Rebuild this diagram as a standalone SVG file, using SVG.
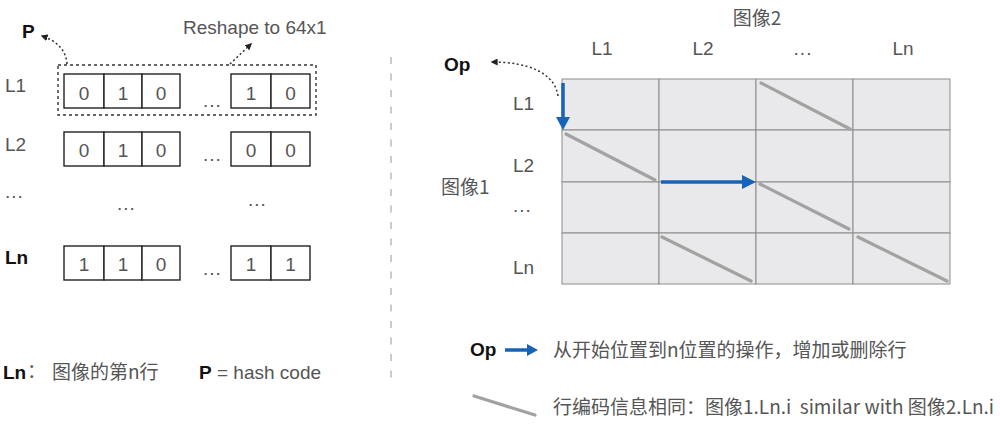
<svg xmlns="http://www.w3.org/2000/svg" width="1000" height="427" viewBox="0 0 1000 427">
<style>
.t{font-family:"Liberation Sans","Noto Sans CJK SC",sans-serif;font-size:19px;fill:#555}
.c{font-family:"Noto Sans CJK SC","Liberation Sans",sans-serif;font-size:19px;fill:#555}
.b{font-family:"Liberation Sans",sans-serif;font-size:19px;font-weight:bold;fill:#111}
.m{text-anchor:middle}
.box{fill:#fff;stroke:#222;stroke-width:1.4}
.cell{fill:#e9e9eb;stroke:#8c8c8c;stroke-width:1}
.diag{stroke:#a2a2a2;stroke-width:3.2;stroke-linecap:round}
.blue{stroke:#1763b8;stroke-width:3.5;fill:none}
.dot{fill:none;stroke:#333;stroke-width:1.5;stroke-dasharray:2,2.5}
</style>
<defs>
<marker id="ah" viewBox="0 0 10 10" refX="8" refY="5" markerWidth="7" markerHeight="7" orient="auto" markerUnits="userSpaceOnUse">
<path d="M0,0 L10,5 L0,10 z" fill="#222"/>
</marker>
</defs>

<!-- divider -->
<line x1="391" y1="57" x2="391" y2="380" stroke="#bbb" stroke-width="1.5" stroke-dasharray="7,9.5"/>

<!-- left panel -->
<g id="row-L1">
<text class="t" x="5" y="92">L1</text>
<rect x="58" y="65" width="258" height="50" fill="none" stroke="#333" stroke-width="1.4" stroke-dasharray="3,3"/>
<rect class="box" x="64" y="74" width="40" height="34"/>
<rect class="box" x="104" y="74" width="38" height="34"/>
<rect class="box" x="142" y="74" width="38" height="34"/>
<rect class="box" x="231" y="74" width="40" height="34"/>
<rect class="box" x="271" y="74" width="39" height="34"/>
<text class="t m" x="84" y="100">0</text>
<text class="t m" x="123" y="100">1</text>
<text class="t m" x="161" y="100">0</text>
<text class="t m" x="251" y="100">1</text>
<text class="t m" x="290.5" y="100">0</text>
<text class="t" x="203" y="107" letter-spacing="1">...</text>
</g>
<g id="row-L2">
<text class="t" x="5" y="151">L2</text>
<rect class="box" x="64" y="132" width="40" height="34"/>
<rect class="box" x="104" y="132" width="38" height="34"/>
<rect class="box" x="142" y="132" width="38" height="34"/>
<rect class="box" x="231" y="132" width="40" height="34"/>
<rect class="box" x="271" y="132" width="39" height="34"/>
<text class="t m" x="84" y="157">0</text>
<text class="t m" x="123" y="157">1</text>
<text class="t m" x="161" y="157">0</text>
<text class="t m" x="251" y="157">0</text>
<text class="t m" x="290.5" y="157">0</text>
<text class="t" x="203" y="161" letter-spacing="1">...</text>
</g>
<g id="row-dots">
<text class="t" x="5" y="198" letter-spacing="1">...</text>
<text class="t" x="117" y="210" letter-spacing="1">...</text>
<text class="t" x="248" y="206" letter-spacing="1">...</text>
</g>
<g id="row-Ln">
<text class="b" x="5" y="264">Ln</text>
<rect class="box" x="64" y="246" width="40" height="34"/>
<rect class="box" x="104" y="246" width="38" height="34"/>
<rect class="box" x="142" y="246" width="38" height="34"/>
<rect class="box" x="231" y="246" width="40" height="34"/>
<rect class="box" x="271" y="246" width="39" height="34"/>
<text class="t m" x="84" y="271">1</text>
<text class="t m" x="123" y="271">1</text>
<text class="t m" x="161" y="271">0</text>
<text class="t m" x="251" y="271">1</text>
<text class="t m" x="290.5" y="271">1</text>
<text class="t" x="203" y="275" letter-spacing="1">...</text>
</g>
<g id="label-P"><text class="b" x="22" y="38">P</text></g>
<g id="label-reshape"><text class="t" x="183" y="34">Reshape to 64x1</text></g>
<g id="legend-left">
<text class="b" x="3" y="379">Ln</text>
<text class="c" x="27" y="378">：</text>
<text class="c" x="52" y="379">图像的第n行</text>
<text class="b" x="199" y="379">P</text>
<text class="t" x="217" y="379">= hash code</text>
</g>

<!-- right panel -->
<g id="grid">
<rect class="cell" x="562" y="79" width="97" height="51"/>
<rect class="cell" x="659" y="79" width="97" height="51"/>
<rect class="cell" x="756" y="79" width="97" height="51"/>
<rect class="cell" x="853" y="79" width="97" height="51"/>
<rect class="cell" x="562" y="130" width="97" height="52"/>
<rect class="cell" x="659" y="130" width="97" height="52"/>
<rect class="cell" x="756" y="130" width="97" height="52"/>
<rect class="cell" x="853" y="130" width="97" height="52"/>
<rect class="cell" x="562" y="182" width="97" height="51"/>
<rect class="cell" x="659" y="182" width="97" height="51"/>
<rect class="cell" x="756" y="182" width="97" height="51"/>
<rect class="cell" x="853" y="182" width="97" height="51"/>
<rect class="cell" x="562" y="233" width="97" height="51"/>
<rect class="cell" x="659" y="233" width="97" height="51"/>
<rect class="cell" x="756" y="233" width="97" height="51"/>
<rect class="cell" x="853" y="233" width="97" height="51"/>
</g>
<g id="headers">
<text class="c m" x="757" y="25">图像2</text>
<text class="t m" x="602" y="55">L1</text>
<text class="t m" x="703" y="55">L2</text>
<text class="t m" x="803" y="55" letter-spacing="1">...</text>
<text class="t m" x="903" y="55">Ln</text>
<text class="t" x="513" y="110">L1</text>
<text class="t" x="513" y="172">L2</text>
<text class="t" x="513" y="212" letter-spacing="1">...</text>
<text class="t" x="513" y="274">Ln</text>
<text class="c" x="441" y="194">图像1</text>
</g>
<g id="label-Op"><text class="b" x="444" y="71">Op</text></g>
<g id="legend-right">
<text class="b" x="470" y="356">Op</text>
<text class="c" x="553" y="357">从开始位置到n位置的操作，增加或删除行</text>
<line class="diag" x1="474" y1="396" x2="535" y2="415"/>
<text class="c" x="553" y="414" xml:space="preserve">行编码信息相同：图像1.Ln.i  similar with 图像2.Ln.i</text>
</g>

<g id="connectors">
<path class="dot" d="M67,64 C66,50 57,41 42,36" marker-end="url(#ah)"/>
<path class="dot" d="M230,64 L251,44" marker-end="url(#ah)"/>
<path class="dot" d="M558,96 C555,73 528,62 492,62" marker-end="url(#ah)"/>
<line class="diag" x1="761" y1="83" x2="850" y2="129"/>
<line class="diag" x1="566" y1="134" x2="655" y2="180"/>
<line class="diag" x1="760" y1="184" x2="849" y2="229"/>
<line class="diag" x1="662" y1="237" x2="751" y2="281"/>
<line class="diag" x1="858" y1="237" x2="947" y2="281"/>
<line class="blue" x1="563" y1="83" x2="563" y2="118"/>
<path d="M556,117 L570,117 L563,130 z" fill="#1763b8"/>
<line class="blue" x1="661" y1="182" x2="743" y2="182"/>
<path d="M742,175 L742,189 L756,182 z" fill="#1763b8"/>
<line class="blue" x1="505" y1="350" x2="528" y2="350"/>
<path d="M527,344 L527,356 L538,350 z" fill="#1763b8"/>
</g>
</svg>
